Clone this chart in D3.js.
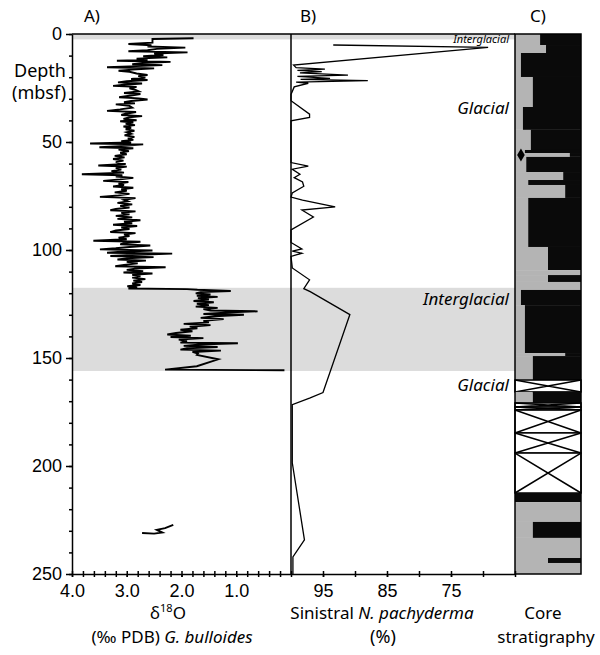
<!DOCTYPE html>
<html>
<head>
<meta charset="utf-8">
<script src="https://cdn.jsdelivr.net/npm/d3@7"></script>
<style>
  body { margin: 0; background: #fff; }
  svg { font-family: "Noto Sans", "DejaVu Sans", sans-serif; }
</style>
</head>
<body>
<div id="chart"></div>
<script>
// ---------- data ----------
const depthTicks = [0, 50, 100, 150, 200, 250];
const d18oTicks = [4.0, 3.0, 2.0, 1.0];
const pachyTicks = [95, 85, 75];

// [depth mbsf, d18O permil]
const d18oUpper = [
  [2.0,1.78],[2.3,2.53],[4.0,2.53],[4.6,2.97],[5.2,2.55],[5.8,2.62],[6.3,1.93],[6.9,2.45],[7.5,2.62],[8.0,2.97],
  [8.5,1.89],[9.1,2.5],[9.7,2.33],[10.3,2.7],[10.8,2.26],[11.4,2.82],[12.0,2.62],[12.4,3.18],[12.9,2.2],[13.5,2.72],
  [14.0,2.9],[14.4,2.35],[15.0,2.95],[15.4,3.36],[15.9,2.5],[16.5,2.9],[17.0,3.15],[17.5,2.95],[18.3,2.82],[19.0,2.62],
  [19.5,2.79],[20.2,2.66],[20.8,2.92],[21.3,2.62],[21.9,3.0],[22.4,3.16],[22.9,2.72],[23.5,3.05],[24.0,3.25],[24.5,2.82],
  [25.2,2.95],[25.8,2.85],[26.6,2.78],[27.3,3.05],[27.8,2.75],[28.6,2.95],[29.3,3.14],[29.8,2.78],[30.3,2.62],[31.0,2.92],
  [31.6,3.05],[32.1,2.85],[32.6,3.2],[33.3,2.95],[34.1,2.9],[34.9,3.12],[35.6,3.36],[36.1,2.83],[36.9,3.02],[37.5,3.1],
  [38.0,2.72],[38.6,2.96],[39.3,3.06],[39.9,2.82],[40.4,3.12],[41.0,2.88],[41.6,3.02],[42.2,2.85],[42.8,3.06],[43.4,2.92],
  [44.1,3.02],[44.8,2.86],[45.5,3.0],[46.2,2.92],[46.9,3.04],[47.6,2.86],[48.3,2.98],[49.0,2.88],[49.6,3.1],[50.2,2.92],
  [50.7,3.67],[51.1,2.7],[51.8,3.02],[52.4,3.5],[52.9,2.88],[53.5,3.15],[54.2,2.96],[55.0,3.12],[55.7,3.0],[56.4,3.22],
  [57.1,3.04],[57.9,3.25],[58.6,3.06],[59.3,3.2],[60.2,3.02],[60.9,3.52],[61.4,3.0],[62.1,3.2],[62.8,3.1],[63.5,3.28],
  [64.2,3.05],[64.9,3.82],[65.4,3.08],[66.0,3.2],[66.6,2.88],[67.3,3.12],[68.0,3.43],[68.5,2.97],[69.2,3.15],[69.9,3.05],
  [70.6,3.25],[71.2,2.88],[71.9,3.1],[72.6,3.0],[73.3,3.22],[74.0,2.95],[74.7,3.15],[75.4,3.49],[76.0,2.84],[76.8,3.05],
  [77.5,2.98],[78.2,3.17],[78.9,2.9],[79.6,3.12],[80.3,2.95],[81.0,3.2],[81.6,3.3],[82.1,2.84],[82.8,3.1],[83.5,2.95],
  [84.2,3.2],[84.9,2.9],[85.6,3.17],[86.2,2.75],[86.9,3.05],[87.6,2.9],[88.3,3.25],[88.9,2.81],[89.6,3.1],[90.3,2.95],
  [91.0,3.2],[91.7,3.3],[92.2,2.84],[92.9,3.05],[93.6,2.95],[94.3,3.15],[95.0,3.0],[95.7,3.61],[96.2,2.75],[96.9,3.05],
  [97.4,3.12],[97.9,2.57],[98.6,2.95],[99.2,3.2],[99.7,3.49],[100.2,2.53],[100.8,3.1],[101.3,3.36],[101.7,2.17],[102.3,2.9],
  [102.8,3.3],[103.3,2.51],[103.9,3.0],[104.4,3.17],[104.9,2.65],[105.5,3.0],[106.2,2.8],[106.9,3.05],[107.5,3.21],[108.0,2.29],
  [108.6,2.85],[109.2,3.0],[109.8,2.7],[110.4,3.06],[110.9,2.53],[111.5,2.9],[112.2,2.75],[112.8,2.9],[113.5,2.66],[114.2,2.88],
  [114.8,2.72],[115.5,2.9],[116.2,2.75],[116.8,2.99],[117.3,2.81],[117.8,2.97],[118.1,1.9],[118.4,1.71],[119.0,1.10],[119.5,1.65],
  [120.1,1.74],[120.6,1.47],[121.2,1.72],[121.7,1.34],[122.3,1.7],[122.9,1.5],[123.6,1.78],[124.2,1.41],[124.9,1.72],[125.5,1.5],
  [126.2,1.74],[126.8,1.34],[127.4,1.6],[128.0,1.47],[128.4,0.61],[129.0,1.2],[129.6,1.6],[130.0,0.86],[130.7,1.4],[131.4,1.65],
  [132.0,1.23],[132.8,1.6],[133.5,1.5],[134.2,1.96],[134.8,1.47],[135.5,1.85],[136.2,1.71],[136.9,2.02],[137.6,1.8],[138.4,2.1],
  [139.1,2.26],[139.7,1.83],[140.3,2.2],[140.8,1.6],[141.5,2.05],[142.2,1.9],[142.9,2.02],[143.2,0.97],[143.8,1.7],[144.4,1.96],
  [144.9,1.34],[145.5,1.9],[146.1,2.02],[146.6,1.28],[147.2,1.8],[147.9,1.7],[148.6,1.72],[150.6,1.33],[153.8,1.72],[155.4,2.3],
  [155.7,0.12]
];
const d18oDeep = [[231.0,2.72],[231.3,2.5],[230.8,2.35],[229.6,2.45],[228.8,2.3],[227.3,2.15]];

// [depth mbsf, sinistral N. pachyderma %]
const pachySeries = [
  [5.1,93.4],[6.2,69.2],[14.4,99.6],[15.6,99.2],[16.3,94.7],[16.8,99.0],[17.4,95.2],[18.0,98.6],[19.0,91.1],[19.6,99.0],
  [20.5,93.9],[21.0,98.5],[21.6,88.0],[22.3,99.2],[22.8,97.3],[24.5,99.5],[28.0,100],[30.9,100],[37.1,97.1],[38.6,97.1],
  [40.2,100],[59.5,100],[61.2,97.3],[62.6,99.8],[64.9,98.6],[66.5,99.5],[68.5,98.2],[70.5,98.0],[73.6,99.8],[75.5,100],
  [76.9,98.2],[80.0,93.1],[81.5,98.3],[84.7,96.5],[90.7,100],[96.5,100],[99.5,98.3],[100.5,99.8],[101.5,98.3],[103.0,100],
  [108.3,99.8],[113.8,97.1],[117.9,98.0],[119.3,97.0],[129.9,90.8],[166.0,95.0],[168.5,97.0],[171.6,99.8],[198.5,99.8],
  [234.2,97.9],[242.1,99.7],[250,99.7]
];

// core stratigraphy: [top, bottom, kind, grey fraction of width]
const stratLayers = [
  [0,5.1,"mix",0.38],[5.1,8.8,"mix",0.47],[8.8,19.9,"mix",0.09],[19.9,33.8,"mix",0.27],[33.8,44.4,"mix",0.12],
  [44.4,53.7,"mix",0.24],[53.7,55.1,"mix",0.15],[55.1,56.9,"mix",0.83],[56.9,63.9,"mix",0.17],[63.9,67.6,"mix",0.73],
  [67.6,69.9,"mix",0.2],[69.9,75.9,"mix",0.76],[75.9,98.6,"mix",0.2],[98.6,109.3,"mix",0.5],[109.3,111.6,"mix",1],
  [111.6,114.8,"mix",0.5],[114.8,118.5,"mix",1],[118.5,125.5,"mix",0.09],[125.5,147.7,"mix",0.15],[147.7,149.1,"mix",0.76],
  [149.1,160.2,"mix",0.27],[160.2,165.7,"x",0],[165.7,170.8,"mix",0.27],[170.8,172.7,"x",0],[172.7,174.1,"x",0],
  [174.1,184.7,"x",0],[184.7,194.0,"x",0],[194.0,212.5,"x",0],[212.5,216.7,"mix",0],[216.7,225.9,"mix",1],
  [225.9,233.3,"mix",0.27],[233.3,242.6,"mix",1],[242.6,244.9,"mix",0.5],[244.9,250,"mix",1]
];
const markerDepth = 56;

const shadedIntervals = [[0, 2.5], [117.5, 156]];

// ---------- layout ----------
const W = 600, H = 655;
const plotTop = 34, plotBottom = 574;
const aLeft = 72, aRight = 291, bRight = 515, cRight = 581;

const svg = d3.select("#chart").append("svg")
  .attr("width", W).attr("height", H);

const y = d3.scaleLinear().domain([0, 250]).range([plotTop, plotBottom]);
const xA = d3.scaleLinear().domain([4, 0]).range([aLeft, aRight]);
const xB = d3.scaleLinear().domain([100, 65]).range([aRight, bRight]);
const xC = d3.scaleLinear().domain([0, 1]).range([bRight, cRight]);

// shaded intervals across A and B
svg.append("g").selectAll("rect")
  .data(shadedIntervals)
  .join("rect")
  .attr("x", aLeft)
  .attr("y", d => y(d[0]))
  .attr("width", bRight - aLeft)
  .attr("height", d => y(d[1]) - y(d[0]))
  .attr("fill", "#dcdcdc");

// curves
const lineA = d3.line().x(d => xA(d[1])).y(d => y(d[0]));
const lineB = d3.line().x(d => xB(d[1])).y(d => y(d[0]));

[d18oUpper, d18oDeep].forEach(seg => {
  svg.append("path")
    .attr("d", lineA(seg))
    .attr("fill", "none")
    .attr("stroke", "#000")
    .attr("stroke-width", 1.9);
});

svg.append("path")
  .attr("d", lineB(pachySeries))
  .attr("fill", "none")
  .attr("stroke", "#000")
  .attr("stroke-width", 1.3);

// core stratigraphy column
const colG = svg.append("g");
stratLayers.forEach(([t, b, kind, f]) => {
  const y0 = y(t), y1 = y(b);
  if (kind === "mix") {
    colG.append("rect").attr("x", xC(0)).attr("y", y0)
      .attr("width", xC(f) - xC(0)).attr("height", y1 - y0).attr("fill", "#b4b4b4");
    colG.append("rect").attr("x", xC(f)).attr("y", y0)
      .attr("width", xC(1) - xC(f)).attr("height", y1 - y0).attr("fill", "#0a0a0a");
  } else {
    colG.append("rect").attr("x", xC(0)).attr("y", y0)
      .attr("width", xC(1) - xC(0)).attr("height", y1 - y0)
      .attr("fill", "#fff").attr("stroke", "#000").attr("stroke-width", 1.5);
    colG.append("path")
      .attr("d", `M${xC(0)},${y0}L${xC(1)},${y1}M${xC(1)},${y0}L${xC(0)},${y1}`)
      .attr("stroke", "#000").attr("stroke-width", 1.5);
  }
});
colG.append("path")
  .attr("d", d3.symbol(d3.symbolDiamond, 50)())
  .attr("transform", `translate(${xC(0.09)},${y(markerDepth)})`)
  .attr("fill", "#000");
colG.append("rect")
  .attr("x", xC(0)).attr("y", y(0))
  .attr("width", xC(1) - xC(0)).attr("height", y(250) - y(0))
  .attr("fill", "none").attr("stroke", "#000").attr("stroke-width", 1.5);

// frame lines
svg.append("line").attr("x1", aLeft).attr("x2", bRight)
  .attr("y1", plotTop).attr("y2", plotTop).attr("stroke", "#000").attr("stroke-width", 1.5);
svg.append("line").attr("x1", aRight).attr("x2", aRight)
  .attr("y1", plotTop).attr("y2", plotBottom).attr("stroke", "#000").attr("stroke-width", 1.5);

// left depth axis
const minorY = svg.append("g")
  .attr("transform", `translate(${aLeft},0)`)
  .call(d3.axisLeft(y).tickValues(d3.range(0, 251, 10)).tickSize(3).tickFormat(""));
minorY.select(".domain").remove();
minorY.selectAll("text").remove();
const majorY = svg.append("g")
  .attr("transform", `translate(${aLeft},0)`)
  .call(d3.axisLeft(y).tickValues(depthTicks).tickSize(6).tickSizeOuter(0).tickPadding(4).tickFormat(d3.format("d")));
majorY.selectAll("text").attr("font-size", 18).attr("fill", "#000").attr("font-family", null);

// bottom A axis
const axA = svg.append("g")
  .attr("transform", `translate(0,${plotBottom})`)
  .call(d3.axisBottom(xA).tickValues(d3.range(0, 20).map(i => 4 - i * 0.2)).tickSize(3).tickSizeOuter(0).tickFormat(""));
axA.selectAll(".tick line").attr("y1", -3);
axA.selectAll("text").remove();
const labA = svg.append("g")
  .attr("transform", `translate(0,${plotBottom})`)
  .call(d3.axisBottom(xA).tickValues(d18oTicks).tickSize(3).tickSizeOuter(0).tickPadding(7).tickFormat(d3.format(".1f")));
labA.select(".domain").remove();
labA.selectAll("text").attr("font-size", 18).attr("font-family", null);

// bottom B axis
const axB = svg.append("g")
  .attr("transform", `translate(0,${plotBottom})`)
  .call(d3.axisBottom(xB).tickValues(d3.range(100, 64, -5)).tickSize(3).tickSizeOuter(0).tickFormat(""));
axB.selectAll(".tick line").attr("y1", -3);
axB.selectAll("text").remove();
const labB = svg.append("g")
  .attr("transform", `translate(0,${plotBottom})`)
  .call(d3.axisBottom(xB).tickValues(pachyTicks).tickSize(3).tickSizeOuter(0).tickPadding(7).tickFormat(d3.format("d")));
labB.select(".domain").remove();
labB.selectAll("text").attr("font-size", 18).attr("font-family", null);

svg.selectAll(".domain, .tick line").attr("stroke", "#000").attr("stroke-width", 1.5);

// panel letters
[["A)", 84], ["B)", 300], ["C)", 530]].forEach(([t, x]) => {
  svg.append("text").attr("x", x).attr("y", 22).attr("font-size", 17).text(t);
});

// depth title
svg.append("text").attr("x", 14).attr("y", 77).attr("font-size", 18).text("Depth");
svg.append("text").attr("x", 12).attr("y", 99).attr("font-size", 18).text("(mbsf)");

// climate labels
const climateLabels = [
  ["Interglacial", 43, 11],
  ["Glacial", 114, 17],
  ["Interglacial", 305, 17],
  ["Glacial", 391, 17]
];
climateLabels.forEach(([t, yy, fs]) => {
  svg.append("text").attr("x", 509).attr("y", yy)
    .attr("text-anchor", "end").attr("font-size", fs)
    .attr("font-style", "italic").text(t);
});

// bottom captions
const capA = svg.append("text").attr("x", 168).attr("y", 619)
  .attr("text-anchor", "middle").attr("font-size", 17);
capA.append("tspan").text("δ");
capA.append("tspan").attr("font-size", 11).attr("dy", -7).text("18");
capA.append("tspan").attr("dy", 7).text("O");

const capA2 = svg.append("text").attr("x", 172).attr("y", 643)
  .attr("text-anchor", "middle").attr("font-size", 17);
capA2.append("tspan").text("(‰ PDB) ");
capA2.append("tspan").attr("font-style", "italic").text("G. bulloides");

const capB = svg.append("text").attr("x", 382).attr("y", 619)
  .attr("text-anchor", "middle").attr("font-size", 17);
capB.append("tspan").text("Sinistral ");
capB.append("tspan").attr("font-style", "italic").text("N. pachyderma");
svg.append("text").attr("x", 383).attr("y", 643)
  .attr("text-anchor", "middle").attr("font-size", 18).text("(%)");

svg.append("text").attr("x", 543).attr("y", 619)
  .attr("text-anchor", "middle").attr("font-size", 17).text("Core");
svg.append("text").attr("x", 546).attr("y", 643)
  .attr("text-anchor", "middle").attr("font-size", 17).text("stratigraphy");
</script>
</body>
</html>
